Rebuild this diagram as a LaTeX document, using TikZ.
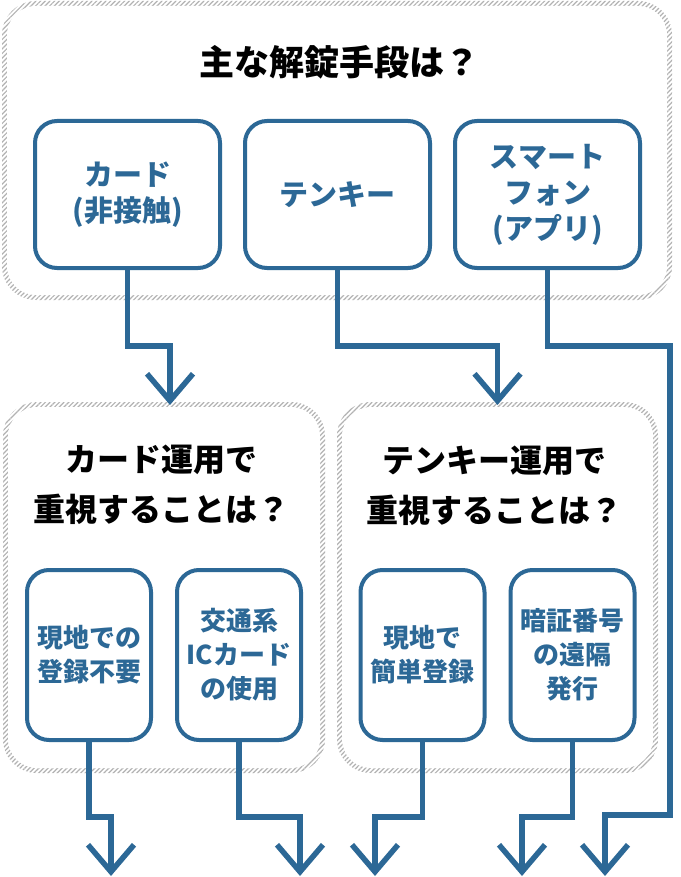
\documentclass[tikz,border=0pt]{standalone}
\usepackage{fontspec}
\newfontfamily\jpfont{Noto Sans CJK JP}
\usetikzlibrary{arrows.meta,patterns.meta}
\definecolor{keyblue}{RGB}{44,104,150}

\begin{document}
\begin{tikzpicture}[x=1pt,y=-1pt,>={Straight Barb[length=27pt,width=46pt]},
 grp/.style={pattern={Lines[angle=45,distance=3.3pt,line width=1.2pt]},pattern color=black!30,rounded corners=34pt,inner sep=0pt,outer sep=0pt},
 grpin/.style={fill=white,rounded corners=29pt,inner sep=0pt},
 qs/.style={align=center,font=\jpfont\bfseries\fontsize{32}{50}\selectfont},
 mb/.style={draw=keyblue,line width=4pt,rounded corners=22pt,fill=white,text=keyblue,minimum width=185pt,minimum height=147pt,align=center,font=\jpfont\bfseries\fontsize{29}{36}\selectfont},
 sb/.style={draw=keyblue,line width=4pt,rounded corners=22pt,fill=white,text=keyblue,minimum width=124pt,minimum height=170pt,align=center,font=\jpfont\bfseries\fontsize{26}{34}\selectfont},
 conn/.style={->,draw=keyblue,line width=5.5pt}]
\useasboundingbox (0,0) rectangle (680,877);
% hatched group frames
\node[grp,minimum width=670pt,minimum height=299pt] (g0) at (337,150.5) {};
\node[grpin,minimum width=660pt,minimum height=289pt] (g0in) at (337,150.5) {};
\node[grp,minimum width=322pt,minimum height=371pt] (g1) at (164,587.5) {};
\node[grpin,minimum width=312pt,minimum height=361pt] (g1in) at (164,587.5) {};
\node[grp,minimum width=321pt,minimum height=371pt] (g2) at (497.5,587.5) {};
\node[grpin,minimum width=311pt,minimum height=361pt] (g2in) at (497.5,587.5) {};
% questions
\node[qs,font=\jpfont\bfseries\fontsize{35}{42}\selectfont] (q0) at (339,62) {主な解錠手段は？};
\node[qs] (q1) at (161,485) {カード運用で\\重視することは？};
\node[qs] (q2) at (494,486) {テンキー運用で\\重視することは？};
% unlocking methods
\node[mb] (card) at (127.5,194.5) {カード\\(非接触)};
\node[mb] (tenkey) at (337.5,194.5) {テンキー};
\node[mb] (phone) at (547.5,194.5) {スマート\\フォン\\(アプリ)};
% priorities
\node[sb] (s1) at (89,655) {現地での\\登録不要};
\node[sb] (s2) at (239,655) {交通系\\ICカード\\の使用};
\node[sb] (s3) at (422.5,655) {現地で\\簡単登録};
\node[sb] (s4) at (572.5,655) {暗証番号\\の遠隔\\発行};
\coordinate (o1) at (111,876);
\coordinate (o2) at (300,876);
\coordinate (o3) at (375,876);
\coordinate (o4) at (522,876);
\coordinate (o5) at (605,876);
\draw[conn] (card.south) -- ++(0,76) -| ([xshift=6pt,yshift=-3pt]g1.north);
\draw[conn] (tenkey.south) -- ++(0,76) -| ([yshift=-3pt]g2.north);
\draw[conn] (phone.south) -- ++(0,76) -- ++(122.5,0) -- ++(0,469) -| (o5);
\foreach \s/\o in {s1/o1,s2/o2,s3/o3,s4/o4} \draw[conn] (\s.south) -- ++(0,75) -| (\o);
\end{tikzpicture}
\end{document}
